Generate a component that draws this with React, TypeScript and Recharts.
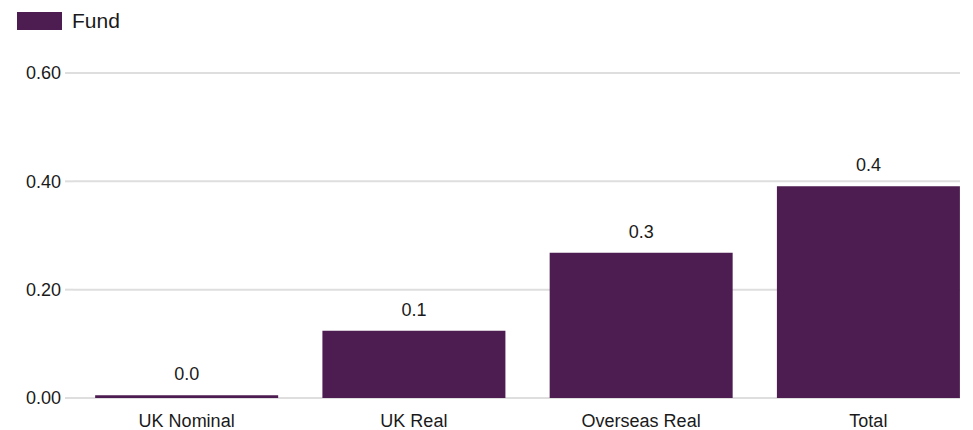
import { Bar, BarChart, CartesianGrid, LabelList, Legend, XAxis, YAxis } from "recharts";

const categories = ["UK Nominal", "UK Real", "Overseas Real", "Total"];
const fundValues = [0.005, 0.124, 0.268, 0.391];
const yTicks = [0, 0.2, 0.4, 0.6];

const data = categories.map((name, i) => ({ name, fund: fundValues[i] }));

const FONT = "'Liberation Sans', Arial, sans-serif";
const PURPLE = "#4d1d51";

function FundLegend() {
  return (
    <div style={{ display: "flex", alignItems: "center", fontFamily: FONT, fontSize: 21, color: "#1a1a1a" }}>
      <span style={{ display: "inline-block", width: 45, height: 18, background: PURPLE, marginRight: 10 }} />
      Fund
    </div>
  );
}

export default function App() {
  return (
    <div style={{ width: 960, height: 430, overflow: "hidden" }}>
      <style>{"body{margin:0}"}</style>
      <BarChart
        width={982}
        height={430}
        data={data}
        margin={{ top: 73, right: 0, bottom: 0, left: 0 }}
        barCategoryGap="9.75%"
      >
        <CartesianGrid stroke="#dedede" strokeWidth={2} vertical={false} />
        <XAxis
          dataKey="name"
          height={32}
          axisLine={false}
          tickLine={false}
          tickSize={0}
          tickMargin={16}
          tick={{ fontSize: 18, fill: "#1a1a1a", fontFamily: FONT }}
        />
        <YAxis
          width={73}
          domain={[0, 0.6]}
          ticks={yTicks}
          axisLine={false}
          tickLine={{ stroke: "#dedede", strokeWidth: 2 }}
          tickSize={8}
          tickMargin={4}
          tickFormatter={(v: number) => v.toFixed(2)}
          tick={{ fontSize: 18, fill: "#1a1a1a", fontFamily: FONT }}
        />
        <Legend
          verticalAlign="middle"
          align="center"
          wrapperStyle={{ top: 9, left: 17, width: "auto" }}
          content={() => <FundLegend />}
        />
        <Bar dataKey="fund" name="Fund" fill={PURPLE} isAnimationActive={false}>
          <LabelList
            dataKey="fund"
            position="top"
            offset={15}
            formatter={(v: number) => v.toFixed(1)}
            style={{ fontSize: 18, fill: "#1a1a1a", fontFamily: FONT }}
          />
        </Bar>
      </BarChart>
    </div>
  );
}
